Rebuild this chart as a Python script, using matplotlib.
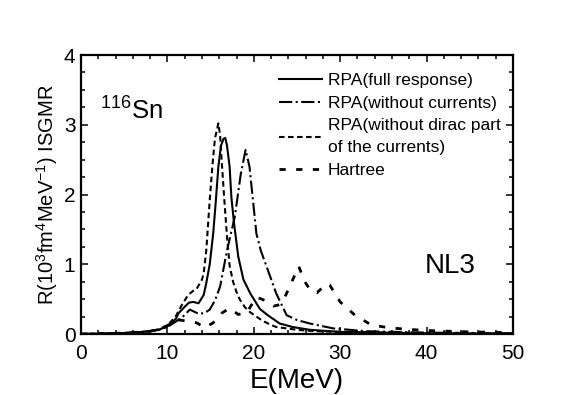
import matplotlib
matplotlib.use("Agg")
import matplotlib.pyplot as plt
from matplotlib.ticker import MultipleLocator

plt.rcParams['font.family'] = ['Liberation Sans', 'DejaVu Sans']
plt.rcParams['mathtext.default'] = 'regular'
plt.rcParams['lines.scale_dashes'] = False

# RPA (full response)
E_full = [0, 2, 4, 6, 8, 9, 10, 11, 11.3, 12.0, 12.5, 13.0, 13.6, 14.2, 14.5, 14.9, 15.3, 15.6, 15.9,
          16.2, 16.5, 16.7, 16.9, 17.2, 17.4, 17.7, 18.2, 18.8, 19.6, 20.7, 21.5, 23.0, 24.5, 26.5, 30, 35, 40, 50]
R_full = [0, 0.005, 0.01, 0.02, 0.04, 0.06, 0.11, 0.22, 0.30, 0.39, 0.45, 0.46, 0.44, 0.56, 0.73, 1.0, 1.44, 1.9, 2.4,
          2.7, 2.8, 2.81, 2.7, 2.4, 1.97, 1.6, 1.11, 0.78, 0.58, 0.36, 0.28, 0.15, 0.10, 0.06, 0.03, 0.02, 0.01, 0.005]

# RPA (without currents)
E_nocur = [0, 2, 4, 6, 8, 9, 10, 11, 11.8, 12.6, 13.6, 14.3, 14.9, 15.5, 16.1, 16.9, 17.8, 18.5, 19.05,
           19.5, 19.9, 20.3, 20.8, 21.5, 22.6, 23.8, 25, 26.5, 29.2, 33, 40, 50]
R_nocur = [0, 0.005, 0.01, 0.02, 0.04, 0.06, 0.10, 0.18, 0.25, 0.35, 0.29, 0.30, 0.35, 0.48, 0.68, 1.2, 1.68, 2.3, 2.64,
           2.4, 1.92, 1.44, 1.2, 0.96, 0.58, 0.27, 0.20, 0.15, 0.08, 0.04, 0.02, 0.01]

# RPA (without dirac part of the currents)
E_nodirac = [0, 2, 4, 6, 8, 9, 10, 11, 11.6, 12.4, 13.0, 13.4, 14.0, 14.2, 14.5, 14.9, 15.2, 15.5, 15.9,
             16.1, 16.3, 16.6, 16.9, 17.2, 17.6, 18.0, 18.4, 19.0, 19.6, 20.3, 21.0, 22.0, 22.6, 25, 27, 30, 35, 40, 50]
R_nodirac = [0, 0.005, 0.01, 0.02, 0.04, 0.07, 0.12, 0.26, 0.40, 0.56, 0.62, 0.65, 0.78, 0.87, 1.2, 1.92, 2.4, 2.8, 3.02,
             2.85, 2.45, 1.9, 1.4, 0.98, 0.75, 0.60, 0.49, 0.38, 0.31, 0.25, 0.19, 0.13, 0.10, 0.06, 0.04, 0.03, 0.02, 0.01, 0.005]

# Hartree
E_hart = [0, 2, 4, 6, 8, 9, 10, 10.8, 11.5, 12.4, 13.4, 14.3, 15.3, 16.3, 17.2, 18.2, 19.2, 20.3, 21.3,
          22.3, 23.0, 23.6, 24.4, 25.2, 25.9, 26.6, 27.3, 28.4, 28.8, 30.0, 31.7, 33.6, 35.6, 37.5, 40, 45, 50]
R_hart = [0, 0.005, 0.01, 0.02, 0.04, 0.07, 0.12, 0.19, 0.20, 0.18, 0.16, 0.09, 0.16, 0.30, 0.37, 0.28, 0.31, 0.53, 0.48,
          0.40, 0.42, 0.53, 0.75, 0.97, 0.75, 0.62, 0.59, 0.72, 0.70, 0.46, 0.27, 0.13, 0.09, 0.07, 0.05, 0.03, 0.02]

labels = ['RPA(full response)', 'RPA(without currents)',
          'RPA(without dirac part\nof the currents)', 'Hartree']

W, H = 566, 395
fig = plt.figure(figsize=(W/100, H/100), dpi=100)
ax = fig.add_axes([81/W, 61/H, 432/W, 279/H])

lw = 1.5
ax.plot(E_full, R_full, color='black', lw=lw, label=labels[0])
ax.plot(E_nocur, R_nocur, color='black', lw=lw, dashes=(9.5, 2.5, 1.5, 2.5), label=labels[1])
ax.plot(E_nodirac, R_nodirac, color='black', lw=lw, dashes=(4, 2.5), label=labels[2])
ax.plot(E_hart, R_hart, color='black', lw=2.0, dashes=(4.5, 7.5), label=labels[3])

ax.set_xlim(0, 50)
ax.set_ylim(0, 4)
ax.xaxis.set_major_locator(MultipleLocator(10))
ax.xaxis.set_minor_locator(MultipleLocator(2))
ax.yaxis.set_major_locator(MultipleLocator(1))
ax.yaxis.set_minor_locator(MultipleLocator(0.25))
ax.tick_params(which='both', direction='in', top=True, right=True, width=1.1, labelsize=15)
ax.tick_params(axis='x', which='major', pad=7)
ax.tick_params(axis='y', which='major', pad=4)
ax.tick_params(which='major', length=5)
ax.tick_params(which='minor', length=3)
for s in ax.spines.values():
    s.set_linewidth(1.6)

ax.set_xlabel('E(MeV)', fontsize=20, labelpad=4)
ax.set_ylabel('R(10$^3$fm$^4$MeV$^{-1}$) ISGMR', fontsize=14.5, labelpad=3)

fig.text(100/W, (H-120)/H, '$^{116}$Sn', fontsize=18.5, va='baseline', ha='left')
ax.text(0.854, 0.245, 'NL3', transform=ax.transAxes, fontsize=20, ha='center', va='center')

leg = ax.legend(loc='upper right', bbox_to_anchor=(1.0, 1 - 6/279), frameon=False, fontsize=12.5,
                handlelength=2.5, handletextpad=0.35, labelspacing=0.42, borderaxespad=0.3)
for t in leg.get_texts():
    t.set_linespacing(1.62)

fig.savefig('out.png', dpi=100)
